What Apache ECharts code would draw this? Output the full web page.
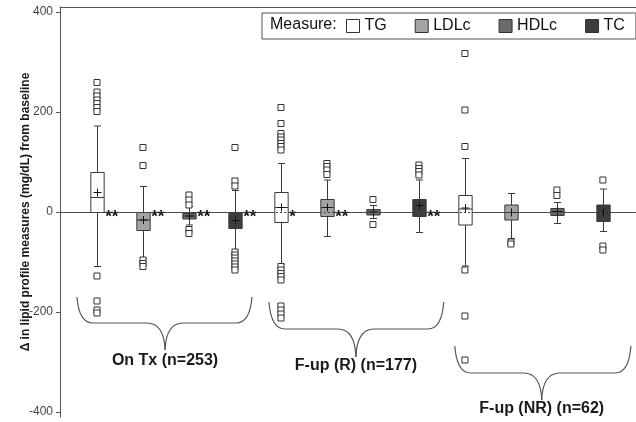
<!DOCTYPE html>
<html>
<head>
<meta charset="utf-8">
<script src="https://cdn.jsdelivr.net/npm/echarts@6/dist/echarts.min.js"></script>
<style>
  html, body { margin: 0; padding: 0; background: #fff; }
  #main { width: 636px; height: 422px; }
</style>
</head>
<body>
<div id="main"></div>
<script>
// groups along the x axis and the four measures in each group
var groups = ['On Tx (n=253)', 'F-up (R) (n=177)', 'F-up (NR) (n=62)'];
var measures = ['TG', 'LDLc', 'HDLc', 'TC'];
var fills = ['#ffffff', '#a3a3a3', '#6b6b6b', '#3d3d3d'];
var yTicks = [-400, -200, 0, 200, 400];

// box stats per group: [low whisker, Q1, median, Q3, high whisker]
var tgBox = [[-109, -1, 29, 79, 172], [-104, -21, 9, 39, 97], [-108, -26, 6, 33, 107]];
var ldlBox = [[-93, -37, -16, -1, 51], [-49, -9, 9, 25, 64], [-53, -16, -1, 14, 37]];
var hdlBox = [[-26, -14, -8, -3, 11], [-13, -6, 0, 5, 13], [-23, -7, 1, 7, 19]];
var tcBox = [[-76, -33, -17, -1, 43], [-41, -9, 13, 25, 64], [-39, -19, -1, 14, 46]];

// means (+)
var tgMean = [39, 9, 8];
var ldlMean = [-16, 9, -1];
var hdlMean = [-8, 0, 1];
var tcMean = [-17, 13, -1];

// outliers per group
var tgOut = [
  [259, 240, 232, 224, 217, 209, 201, -128, -178, -196, -202],
  [209, 177, 157, 150, 144, 137, 131, 124, -109, -116, -123, -129, -136, -188, -196, -204, -212],
  [317, 204, 131, -116, -208, -296]
];
var ldlOut = [[129, 93, -96, -103, -109], [97, 91, 84, 75], [-60, -64]];
var hdlOut = [[34, 24, 14, -35, -43], [25, -25], [44, 33]];
var tcOut = [[129, 62, 52, -80, -86, -92, -98, -104, -110, -116], [94, 87, 81, 74], [64, -68, -76]];

// significance marks next to each box
var tgStars = ['**', '*', ''];
var ldlStars = ['**', '**', ''];
var hdlStars = ['**', '', ''];
var tcStars = ['**', '**', ''];

var allBox = [tgBox, ldlBox, hdlBox, tcBox];
var allMean = [tgMean, ldlMean, hdlMean, tcMean];
var allOut = [tgOut, ldlOut, hdlOut, tcOut];
var allStars = [tgStars, ldlStars, hdlStars, tcStars];

// brace under each group: [left, right, spike x, end y, line y, spike y, label y]
var braceLayout = [
  [0.565, 4.37, 2.48, -170, -222, -276, -298],
  [4.74, 8.54, 6.63, -180, -234, -290, -308],
  [8.78, 12.61, 10.67, -268, -322, -376, -394]
];

var FONT = '"Liberation Sans", Arial, sans-serif';
var LINE = '#3a3a3a';

function xPos(g, m) { return g * 4 + m + 1; }

function renderBox(params, api) {
  var m = params.seriesIndex;
  var x = api.value(0);
  var low = api.coord([x, api.value(1)]);
  var q1 = api.coord([x, api.value(2)]);
  var med = api.coord([x, api.value(3)]);
  var q3 = api.coord([x, api.value(4)]);
  var high = api.coord([x, api.value(5)]);
  var mean = api.coord([x, api.value(6)]);
  var zero = api.coord([x, 0]);
  var w = api.size([0.29, 0])[0];
  var cx = Math.round(low[0]) + 0.5;
  var st = { stroke: LINE, lineWidth: 1 };
  var kids = [
    { type: 'line', shape: { x1: cx, y1: q3[1], x2: cx, y2: high[1] }, style: st },
    { type: 'line', shape: { x1: cx, y1: q1[1], x2: cx, y2: low[1] }, style: st },
    { type: 'line', shape: { x1: cx - 3.5, y1: high[1], x2: cx + 3.5, y2: high[1] }, style: st },
    { type: 'line', shape: { x1: cx - 3.5, y1: low[1], x2: cx + 3.5, y2: low[1] }, style: st },
    { type: 'rect', shape: { x: cx - w / 2, y: q3[1], width: w, height: q1[1] - q3[1] },
      style: { fill: api.visual('color'), stroke: LINE, lineWidth: 1 } },
    { type: 'line', shape: { x1: cx - w / 2, y1: med[1], x2: cx + w / 2, y2: med[1] }, style: st },
    { type: 'line', shape: { x1: cx - 4, y1: mean[1], x2: cx + 4, y2: mean[1] }, style: { stroke: '#111', lineWidth: 1 } },
    { type: 'line', shape: { x1: cx, y1: mean[1] - 4, x2: cx, y2: mean[1] + 4 }, style: { stroke: '#111', lineWidth: 1 } }
  ];
  var star = allStars[m][params.dataIndex];
  if (star) {
    kids.push({ type: 'text', style: {
      text: star, x: cx + w / 2 + 1, y: zero[1] + 5,
      align: 'left', verticalAlign: 'middle',
      font: 'bold 17px ' + FONT, fill: '#111'
    } });
  }
  return { type: 'group', children: kids };
}

function renderBrace(params, api) {
  var b = braceLayout[params.dataIndex];
  var L = api.coord([b[0], b[3]]);
  var R = api.coord([b[1], b[3]]);
  var lineY = api.coord([b[0], b[4]])[1];
  var S = api.coord([b[2], b[5]]);
  var lab = api.coord([b[2], b[6]]);
  var st = { stroke: '#555', lineWidth: 1.2, fill: null };
  return { type: 'group', children: [
    { type: 'bezierCurve', shape: { x1: L[0], y1: L[1], cpx1: L[0] + 2, cpy1: lineY, x2: L[0] + 16, y2: lineY }, style: st },
    { type: 'line', shape: { x1: L[0] + 16, y1: lineY, x2: S[0] - 18, y2: lineY }, style: st },
    { type: 'bezierCurve', shape: { x1: S[0] - 18, y1: lineY, cpx1: S[0] - 1, cpy1: lineY, x2: S[0], y2: S[1] }, style: st },
    { type: 'bezierCurve', shape: { x1: S[0], y1: S[1], cpx1: S[0] + 1, cpy1: lineY, x2: S[0] + 18, y2: lineY }, style: st },
    { type: 'line', shape: { x1: S[0] + 18, y1: lineY, x2: R[0] - 16, y2: lineY }, style: st },
    { type: 'bezierCurve', shape: { x1: R[0] - 16, y1: lineY, cpx1: R[0] - 2, cpy1: lineY, x2: R[0], y2: R[1] }, style: st },
    { type: 'text', style: { text: groups[params.dataIndex], x: lab[0], y: lab[1],
      align: 'center', verticalAlign: 'middle', font: 'bold 16px ' + FONT, fill: '#1a1a1a' } }
  ] };
}

var series = [];
measures.forEach(function (name, m) {
  var data = [];
  for (var g = 0; g < groups.length; g++) {
    data.push([xPos(g, m)].concat(allBox[m][g]).concat([allMean[m][g]]));
  }
  series.push({
    name: name,
    type: 'custom',
    renderItem: renderBox,
    itemStyle: { color: fills[m], borderColor: '#333', borderWidth: 1 },
    encode: { x: 0, y: [1, 2, 3, 4, 5, 6] },
    data: data,
    z: 3,
    silent: true
  });
});

var outData = [];
allOut.forEach(function (perGroup, m) {
  perGroup.forEach(function (vals, g) {
    vals.forEach(function (v) { outData.push([xPos(g, m), v]); });
  });
});

series.push({
  name: 'outliers',
  type: 'scatter',
  symbol: 'rect',
  symbolSize: 6,
  itemStyle: { color: '#fff', borderColor: '#333', borderWidth: 1, opacity: 1 },
  data: outData,
  z: 4,
  silent: true
});

series.push({
  name: 'braces',
  type: 'custom',
  renderItem: renderBrace,
  data: braceLayout.map(function (b) { return [b[2], b[5]]; }),
  z: 2,
  silent: true
});

series.push({
  name: 'zero',
  type: 'line',
  data: [],
  z: 1,
  markLine: {
    silent: true,
    symbol: 'none',
    label: { show: false },
    lineStyle: { type: [2, 2], color: '#444', width: 1 },
    data: [{ yAxis: 0 }]
  }
});

var chart = echarts.init(document.getElementById('main'));
chart.setOption({
  animation: false,
  backgroundColor: '#fff',
  textStyle: { fontFamily: FONT },
  title: {
    text: 'Measure:',
    left: 270,
    top: 17,
    padding: 0,
    textStyle: { fontSize: 16, fontWeight: 'normal', color: '#111', fontFamily: FONT }
  },
  legend: {
    data: measures,
    left: 262,
    top: 13,
    padding: [5, 11, 5, 84],
    itemGap: 28,
    itemWidth: 13,
    itemHeight: 13,
    icon: 'rect',
    borderColor: '#555',
    borderWidth: 1,
    selectedMode: false,
    itemStyle: { borderColor: '#333', borderWidth: 1 },
    textStyle: { fontSize: 16, color: '#111', fontFamily: FONT }
  },
  grid: { left: 60, right: 0, top: 7, bottom: 5 },
  xAxis: [
    {
      type: 'value', min: 0.196, max: 12.72, position: 'bottom',
      axisLine: { show: true, lineStyle: { color: '#555' } },
      axisTick: { show: false }, axisLabel: { show: false }, splitLine: { show: false }
    },
    {
      type: 'value', min: 0.196, max: 12.72, position: 'top',
      axisLine: { show: true, lineStyle: { color: '#555' } },
      axisTick: { show: false }, axisLabel: { show: false }, splitLine: { show: false }
    }
  ],
  yAxis: {
    type: 'value',
    min: -410,
    max: 410,
    name: 'Δ in lipid profile measures (mg/dL) from baseline',
    nameLocation: 'middle',
    nameGap: 28,
    nameMoveOverlap: false,
    nameTextStyle: { fontSize: 12, fontWeight: 'bold', color: '#1a1a1a', fontFamily: FONT },
    axisLine: { show: true, lineStyle: { color: '#555' } },
    axisTick: { show: true, length: 4, customValues: yTicks, lineStyle: { color: '#555' } },
    axisLabel: { customValues: yTicks, margin: 7, fontSize: 12, color: '#444', fontFamily: FONT },
    splitLine: { show: false }
  },
  series: series
});
</script>
</body>
</html>
